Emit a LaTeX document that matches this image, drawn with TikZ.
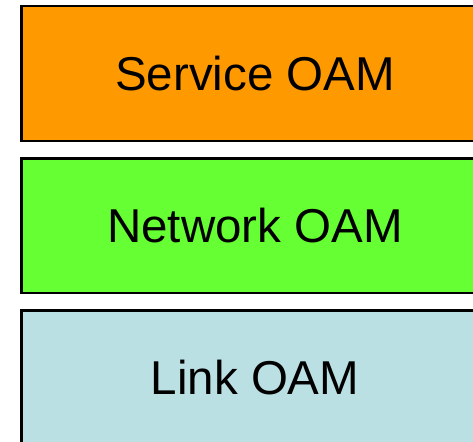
\documentclass[tikz,border=0pt]{standalone}
\usepackage{fontspec}
\setmainfont{Liberation Sans}
\usetikzlibrary{positioning}
\definecolor{svcorange}{HTML}{FF9900}
\definecolor{netgreen}{HTML}{66FF33}
\definecolor{lnkblue}{HTML}{BBE0E3}
\tikzset{
  layer/.style={draw=black,line width=2.5pt,minimum width=467.5pt,minimum height=134.5pt,inner sep=0pt,font=\fontsize{47.5}{52}\selectfont},
  svcblk/.style={layer,fill=svcorange},
  netblk/.style={layer,fill=netgreen},
  lnkblk/.style={layer,fill=lnkblue}
}
\begin{document}
\begin{tikzpicture}[x=1pt,y=1pt,node distance=15pt]
  \useasboundingbox (0,0) rectangle (473,-441);
  \clip (0,0) rectangle (473,-441);
  \node[svcblk, anchor=north west] (svc) at (20,-5) {Service OAM};
  \node[netblk, below=of svc] (net) {Network OAM};
  \node[lnkblk, below=of net] (lnk) {Link OAM};
\end{tikzpicture}
\end{document}
